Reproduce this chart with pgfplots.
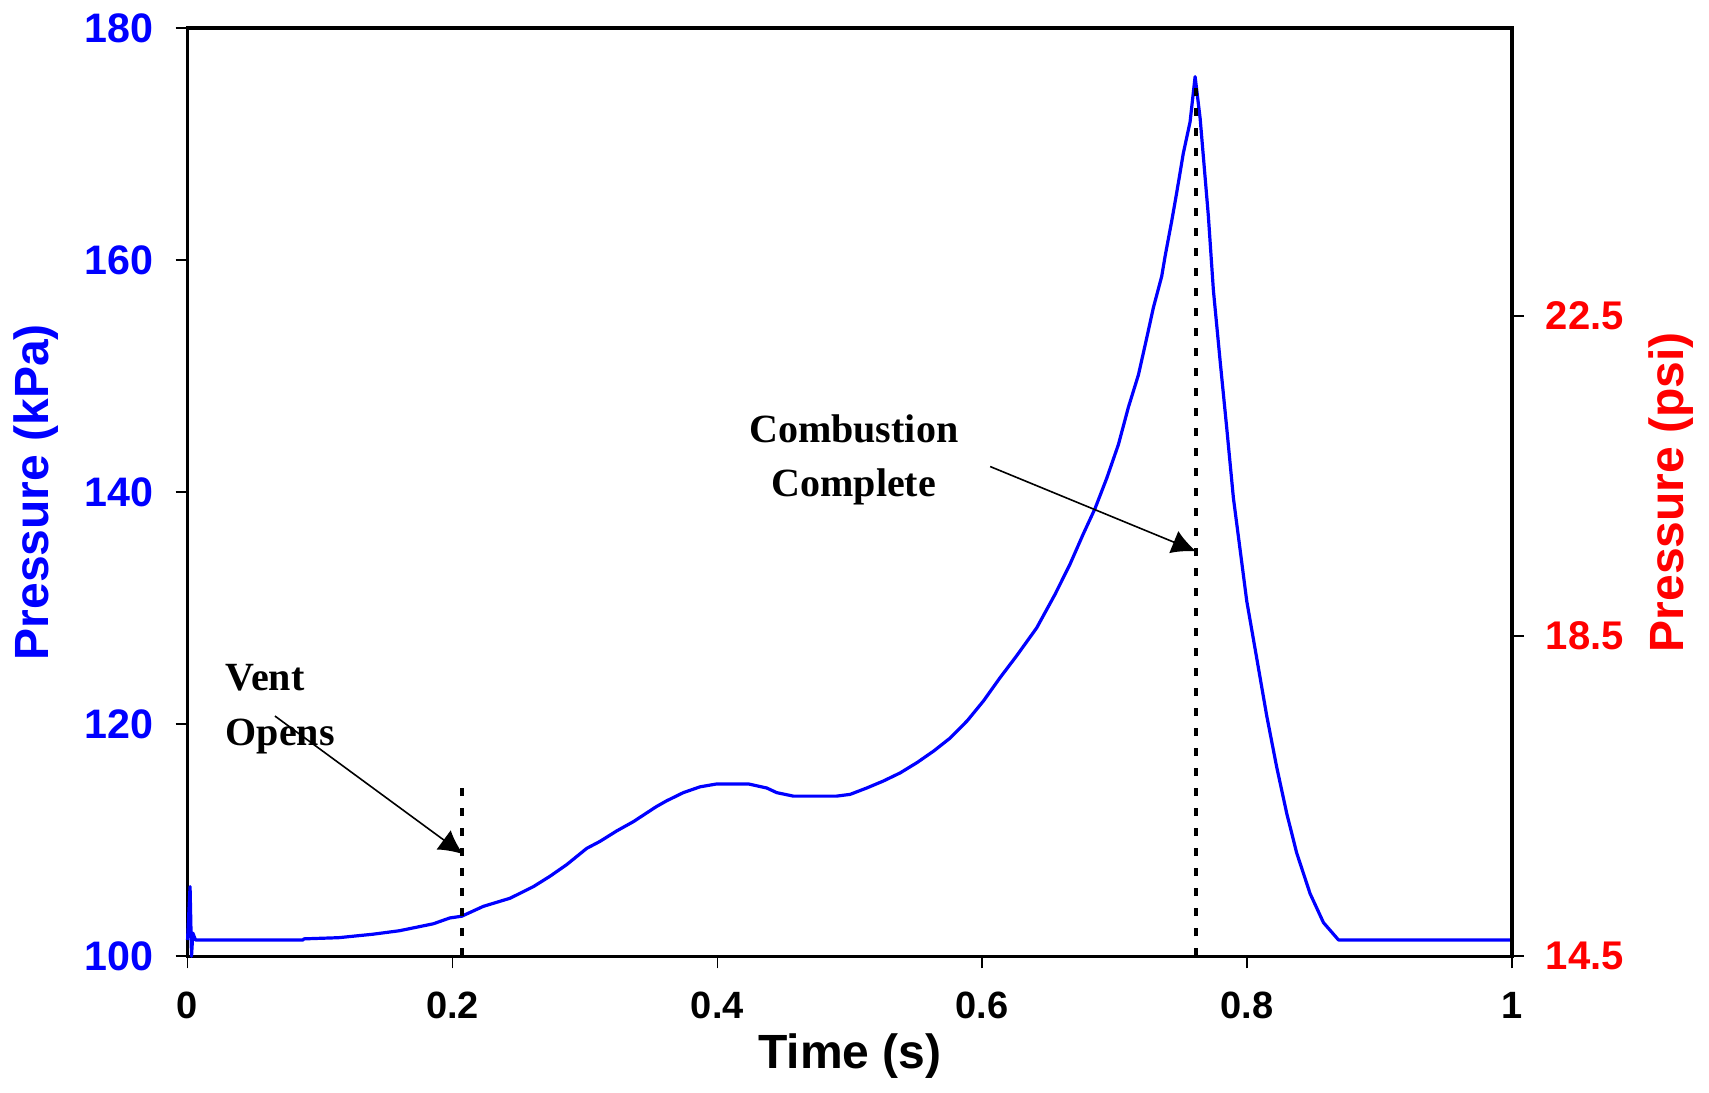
\documentclass[border=0pt]{standalone}
\usepackage{fontspec}
\setmainfont{Liberation Sans}
\newfontfamily\annfont{Liberation Serif}
\usepackage{pgfplots}
\usepackage{pgfplotstable}
\pgfplotsset{compat=1.18}
\usetikzlibrary{arrows.meta}

\definecolor{kpablue}{RGB}{0,0,255}
\definecolor{psired}{RGB}{255,0,0}

% pressure trace
\pgfplotstableread{
t P
0 101.4
0.0019 106.0
0.003 100.0
0.004 102.0
0.006 101.4
0.087 101.4
0.088 101.5
0.114 101.6
0.14 101.9
0.16 102.2
0.1856 102.8
0.198 103.3
0.207 103.45
0.2233 104.3
0.2435 105.0
0.2611 106.0
0.2737 106.9
0.2863 107.9
0.3014 109.3
0.3114 109.9
0.324 110.8
0.3366 111.6
0.354 112.9
0.3618 113.4
0.3743 114.1
0.3869 114.6
0.3996 114.85
0.4234 114.85
0.4373 114.5
0.4448 114.1
0.4574 113.8
0.490 113.8
0.5002 113.95
0.5128 114.5
0.5253 115.1
0.538 115.8
0.5509 116.7
0.5635 117.7
0.5757 118.8
0.5887 120.3
0.6009 122.0
0.6134 124.0
0.626 125.9
0.6411 128.3
0.655 131.2
0.6663 133.8
0.6763 136.4
0.6852 138.6
0.694 141.2
0.7028 144.1
0.7103 147.3
0.7179 150.1
0.7242 153.3
0.7292 155.9
0.7355 158.6
0.738 160.3
0.7431 163.4
0.7468 165.8
0.7518 169.2
0.7569 171.9
0.7607 175.8
0.7645 172.2
0.7707 163.8
0.7745 157.4
0.7795 151.4
0.7846 145.5
0.7896 139.5
0.7946 135.1
0.7997 130.6
0.8072 125.7
0.8148 120.7
0.8223 116.3
0.8299 112.3
0.8374 108.9
0.8475 105.4
0.8576 102.9
0.869 101.4
1.0 101.4
}\trace

\begin{document}
\begin{tikzpicture}
\pgfplotsset{
  every axis/.append style={
    width=331pt, height=232pt, scale only axis,
    xmin=0, xmax=1,
    tick align=outside, major tick length=3pt,
    tick style={black, line width=0.4pt},
    axis line style={line width=0.8pt},
  },
}
\begin{axis}[
  ymin=100, ymax=180,
  xtick={0,0.2,0.4,0.6,0.8,1},
  xticklabels={0,0.2,0.4,0.6,0.8,1},
  ytick={100,120,140,160,180},
  yticklabels={100,120,140,160,180},
  xtick pos=left, ytick pos=left,
  xticklabel style={font=\bfseries\fontsize{9.5}{11}\selectfont, yshift=-2.5pt},
  yticklabel style={font=\bfseries\fontsize{10.3}{12}\selectfont, text=kpablue, xshift=-2pt},
  xlabel={Time (s)},
  ylabel={Pressure (kPa)},
  every axis x label/.style={at={(axis description cs:0.5,-0.1078)}, anchor=center,
    font=\bfseries\fontsize{12}{14}\selectfont},
  every axis y label/.style={at={(axis description cs:-0.1145,0.5)}, rotate=90, anchor=center,
    font=\bfseries\fontsize{12}{14}\selectfont, text=kpablue},
  clip=false,
]
\addplot[kpablue, line width=0.8pt, line join=round] table[x=t, y=P] {\trace};
% event markers
\addplot[black, line width=0.9pt, dash pattern=on 2pt off 3pt] coordinates {(0.207,100) (0.207,115)};
\addplot[black, line width=0.9pt, dash pattern=on 2pt off 3pt] coordinates {(0.7614,100) (0.7614,175)};
\draw[-{Latex[length=6pt,width=6pt]}, line width=0.4pt] (axis cs:0.066,120.7) -- (axis cs:0.208,108.8);
\draw[-{Latex[length=6pt,width=6pt]}, line width=0.4pt] (axis cs:0.606,142.2) -- (axis cs:0.7614,134.9);
\node[anchor=north west, inner sep=0, align=left,
  font=\annfont\bfseries\fontsize{10}{13.7}\selectfont] at (axis cs:0.0283,125.2) {Vent\\Opens};
\node[anchor=north, inner sep=0, align=center,
  font=\annfont\bfseries\fontsize{10}{13.3}\selectfont] at (axis cs:0.503,146.7) {Combustion\\Complete};
\path (axis description cs:-0.1416,1.028) rectangle (axis description cs:1.1487,-0.140);
\end{axis}
\begin{axis}[
  ymin=14.5, ymax=26.1029,
  axis x line=none,
  axis y line*=right,
  ytick={14.5,18.5,22.5},
  yticklabels={14.5,18.5,22.5},
  yticklabel style={font=\bfseries\fontsize{10}{12}\selectfont, text=psired, xshift=1.9pt},
  ylabel={Pressure (psi)},
  every axis y label/.style={at={(axis description cs:1.120,0.5)}, rotate=90, anchor=center,
    font=\bfseries\fontsize{12}{14}\selectfont, text=psired},
]
\end{axis}
\end{tikzpicture}
\end{document}
